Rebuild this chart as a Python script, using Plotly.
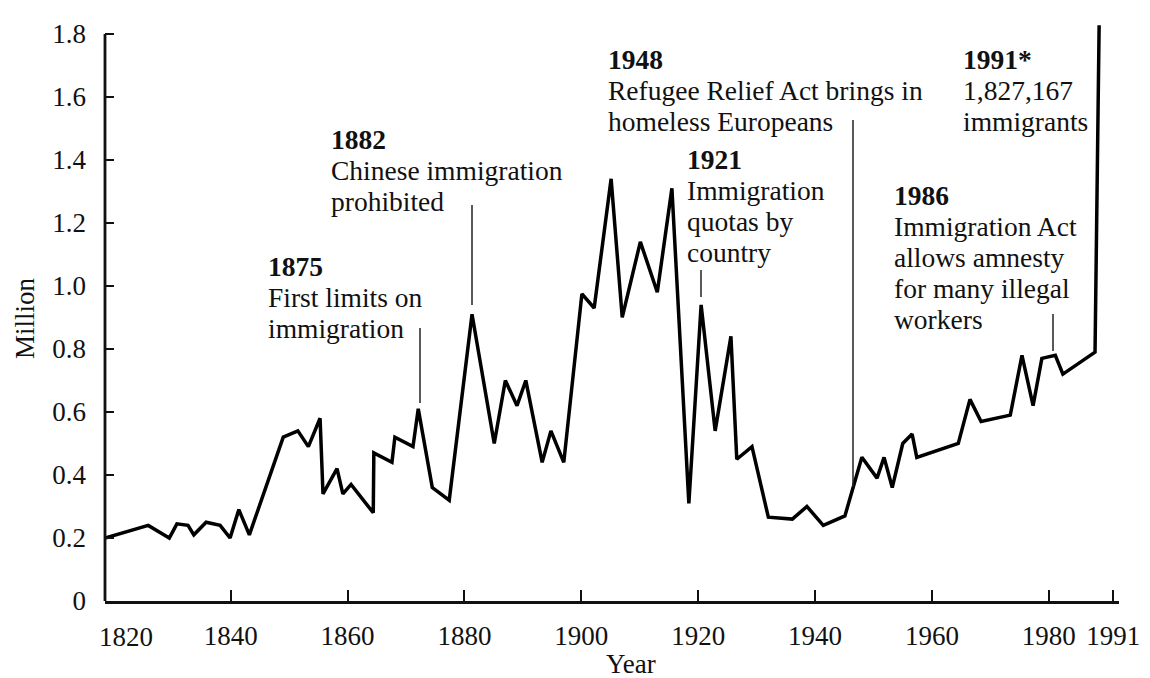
import plotly.graph_objects as go

# ---- data (year, millions of immigrants) ----
years = [1818.5, 1825.9, 1829.5, 1830.8, 1832.7, 1833.7, 1835.8, 1838.2, 1839.9, 1841.4,
         1843.2, 1849.0, 1851.5, 1853.3, 1855.3, 1855.8, 1858.2, 1859.2, 1860.6, 1864.4,
         1864.5, 1867.6, 1868.1, 1871.2, 1872.1, 1874.5, 1877.4, 1881.3, 1885.1, 1887.0,
         1889.0, 1890.5, 1893.3, 1894.8, 1897.0, 1900.1, 1902.2, 1905.1, 1907.0, 1910.1,
         1913.0, 1915.5, 1918.4, 1920.5, 1922.9, 1925.6, 1926.6, 1929.2, 1932.0, 1936.1,
         1938.6, 1941.4, 1945.1, 1948.0, 1950.6, 1951.8, 1953.2, 1955.0, 1956.6, 1957.4,
         1964.5, 1966.5, 1968.4, 1973.4, 1975.4, 1977.3, 1978.8, 1981.1, 1982.4, 1987.9,
         1988.6]
immigrants_millions = [0.20, 0.24, 0.20, 0.245, 0.24, 0.21, 0.25, 0.24, 0.20, 0.29,
                       0.21, 0.52, 0.54, 0.49, 0.58, 0.34, 0.42, 0.34, 0.37, 0.28,
                       0.47, 0.44, 0.52, 0.49, 0.61, 0.36, 0.32, 0.91, 0.50, 0.70,
                       0.62, 0.70, 0.44, 0.54, 0.44, 0.975, 0.93, 1.34, 0.90, 1.14,
                       0.98, 1.31, 0.31, 0.94, 0.54, 0.84, 0.45, 0.49, 0.266, 0.26,
                       0.30, 0.24, 0.27, 0.456, 0.39, 0.456, 0.36, 0.50, 0.53, 0.456,
                       0.50, 0.64, 0.57, 0.59, 0.78, 0.62, 0.77, 0.78, 0.72, 0.79,
                       1.827167]

x_tick_years = [1840, 1860, 1880, 1900, 1920, 1940, 1960, 1980, 1991]
first_year_label = "1820"
y_tick_values = [0, 0.2, 0.4, 0.6, 0.8, 1.0, 1.2, 1.4, 1.6, 1.8]
y_tick_labels = ["0", "0.2", "0.4", "0.6", "0.8", "1.0", "1.2", "1.4", "1.6", "1.8"]

event_titles = ["1875", "1882", "1948", "1921", "1986", "1991*"]
event_texts = [
    ["First limits on", "immigration"],
    ["Chinese immigration", "prohibited"],
    ["Refugee Relief Act brings in", "homeless Europeans"],
    ["Immigration", "quotas by", "country"],
    ["Immigration Act", "allows amnesty", "for many illegal", "workers"],
    ["1,827,167", "immigrants"],
]

# ---- layout geometry ----
# The page body adds an 8px margin, so the figure is drawn 8px smaller and
# every reference-pixel position below is shifted by that offset.
OFF = 8
W, H = 1150 - OFF, 678 - OFF
ML, MR, MT, MB = 97, 31, 7, 77
PW, PH = W - ML - MR, H - MT - MB
X_RANGE = [1818.5, 1992.0]
FONT = "Liberation Serif"
FS_TEXT = 27.5
FS_TICK = 27
LINE_GAP = 31


def px_x(px):
    return (px - OFF - ML) / PW


def px_y(py):
    return (H - MB - (py - OFF)) / PH


# first baseline and left edge of each text block (reference pixels)
block_pos = [(267, 276), (330, 149), (607, 69), (686, 169), (893, 205), (962, 69)]
# leader lines: x, top y, bottom y (reference pixels)
leaders = [(420, 328, 403), (472, 205, 305), (853, 120, 487),
           (701, 270, 297), (1053, 314, 351)]

fig = go.Figure()
fig.add_trace(go.Scatter(x=years, y=immigrants_millions, mode="lines",
                         line=dict(color="black", width=3.5), hoverinfo="skip",
                         showlegend=False, cliponaxis=False))

annotations = []
for title, lines, (lx, base) in zip(event_titles, event_texts, block_pos):
    rows = ["<b>" + title + "</b>"] + lines
    for i, row in enumerate(rows):
        b = base + i * LINE_GAP
        annotations.append(dict(
            text=row, xref="paper", yref="paper", x=px_x(lx),
            y=px_y(b - 0.3375 * FS_TEXT), xanchor="left", yanchor="middle",
            align="left", showarrow=False, borderpad=0,
            font=dict(family=FONT, size=FS_TEXT, color="#111")))

annotations.append(dict(text="Year", xref="paper", yref="paper", x=px_x(631), y=px_y(664),
                        xanchor="center", yanchor="middle", showarrow=False,
                        font=dict(family=FONT, size=FS_TICK, color="#111")))
annotations.append(dict(text="Million", xref="paper", yref="paper", x=px_x(25), y=px_y(318),
                        xanchor="center", yanchor="middle", showarrow=False, textangle=-90,
                        font=dict(family=FONT, size=FS_TICK, color="#111")))
annotations.append(dict(text=first_year_label, xref="paper", yref="paper", x=px_x(126),
                        y=px_y(637), xanchor="center", yanchor="middle", showarrow=False,
                        font=dict(family=FONT, size=FS_TICK, color="#111")))

shapes = []
for lx, y0, y1 in leaders:
    shapes.append(dict(type="line", xref="paper", yref="paper",
                       x0=px_x(lx), x1=px_x(lx), y0=px_y(y0), y1=px_y(y1),
                       line=dict(color="#222", width=1.5)))
# y axis line only up to the top tick
shapes.append(dict(type="line", xref="paper", yref="y", x0=0, x1=0, y0=0, y1=1.8,
                   line=dict(color="#111", width=2.8)))

fig.update_layout(
    width=W, height=H,
    margin=dict(l=ML, r=MR, t=MT, b=MB, pad=0),
    paper_bgcolor="white", plot_bgcolor="white",
    font=dict(family=FONT, size=FS_TICK, color="#111"),
    annotations=annotations, shapes=shapes,
    xaxis=dict(range=X_RANGE, tickvals=x_tick_years,
               ticktext=[str(v) for v in x_tick_years], ticks="inside", ticklen=11,
               tickwidth=1.6, tickcolor="#111", showline=True, linecolor="#111",
               linewidth=2.8, showgrid=False, zeroline=False, ticklabelstandoff=9),
    yaxis=dict(range=[0, 1.86], tickvals=y_tick_values, ticktext=y_tick_labels,
               ticks="inside", ticklen=9, tickwidth=1.6, tickcolor="#111",
               showline=False, showgrid=False, zeroline=False, ticklabelstandoff=18),
)

fig.write_html("out.html")
